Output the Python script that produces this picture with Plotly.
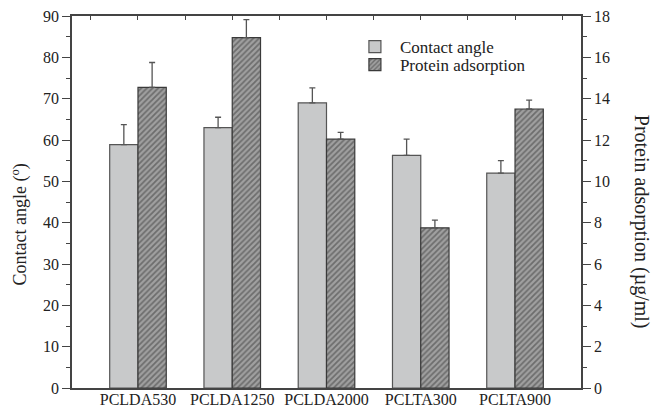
import plotly.graph_objects as go

categories = ["PCLDA530", "PCLDA1250", "PCLDA2000", "PCLTA300", "PCLTA900"]
contact_angle = [58.9, 63.0, 69.0, 56.3, 52.0]
contact_angle_err = [4.8, 2.5, 3.6, 3.9, 3.0]
protein = [14.55, 16.95, 12.04, 7.75, 13.5]
protein_err = [1.2, 0.87, 0.33, 0.37, 0.43]

FONT = "Liberation Serif"
AX = "#444444"
TICKSIZE = 16
LEGFONT = dict(family=FONT, size=17, color="#222")

fig = go.Figure()
fig.add_trace(go.Bar(
    x=categories, y=contact_angle, name="Contact angle",
    offset=-0.3, width=0.3, legend="legend",
    marker=dict(color="#c8c9ca", line=dict(color="#555555", width=1.2)),
    error_y=dict(type="data", array=contact_angle_err, arrayminus=[0]*5, symmetric=False,
                 color="#555555", thickness=1.3, width=3),
    yaxis="y",
))
fig.add_trace(go.Bar(
    x=categories, y=protein, name="Protein adsorption",
    offset=0.0, width=0.3, legend="legend2",
    marker=dict(color="#9a9a9a", line=dict(color="#3a3a3a", width=1.2),
                pattern=dict(shape="/", bgcolor="#a0a0a0", fgcolor="#3a3a3a", size=4, solidity=0.45)),
    error_y=dict(type="data", array=protein_err, arrayminus=[0]*5, symmetric=False,
                 color="#555555", thickness=1.3, width=3),
    yaxis="y2",
))

fig.update_layout(
    width=654, height=409,
    margin=dict(l=72, r=73, t=16, b=21),
    paper_bgcolor="white", plot_bgcolor="white",
    barmode="overlay",
    showlegend=True,
    legend=dict(x=0.546, y=0.9166, xanchor="left", yanchor="middle",
                font=LEGFONT, bgcolor="rgba(0,0,0,0)", itemwidth=40),
    legend2=dict(x=0.546, y=0.868, xanchor="left", yanchor="middle",
                 font=LEGFONT, bgcolor="rgba(0,0,0,0)", itemwidth=40),
    font=dict(family=FONT, size=TICKSIZE, color="#222"),
    xaxis=dict(range=[-0.7, 4.7], showline=True, linecolor=AX, linewidth=1.5,
               ticks="", showgrid=False, zeroline=False, automargin=False,
               ticklabelstandoff=-4,
               tickfont=dict(family=FONT, size=TICKSIZE, color="#222")),
    xaxis2=dict(range=[-0.7, 4.7], overlaying="x", side="top", showline=True,
                linecolor=AX, linewidth=1.5, ticks="inside", ticklen=4, tickcolor=AX,
                tick0=-0.5, dtick=0.5, showticklabels=False, showgrid=False, zeroline=False,
                anchor="y", automargin=False),
    yaxis=dict(range=[0, 90], dtick=10, showline=True, linecolor=AX, linewidth=1.5,
               ticks="outside", ticklen=8, tickcolor=AX, showgrid=False, zeroline=False,
               automargin=False,
               minor=dict(dtick=5, ticks="outside", ticklen=4, tickcolor=AX, showgrid=False),
               tickfont=dict(family=FONT, size=TICKSIZE, color="#222")),
    yaxis2=dict(range=[0, 18], dtick=2, overlaying="y", side="right", showline=True,
                linecolor=AX, linewidth=1.5, ticks="outside", ticklen=8, tickcolor=AX,
                showgrid=False, zeroline=False, automargin=False,
                minor=dict(dtick=1, ticks="outside", ticklen=4, tickcolor=AX, showgrid=False),
                tickfont=dict(family=FONT, size=TICKSIZE, color="#222")),
    annotations=[
        dict(text="Contact angle (<sup>o</sup>)", xref="paper", yref="paper",
             x=-0.102, y=0.44, textangle=-90, showarrow=False,
             xanchor="center", yanchor="middle",
             font=dict(family=FONT, size=18, color="#222")),
        dict(text="Protein adsorption (\u00b5g/ml)", xref="paper", yref="paper",
             x=1.119, y=0.448, textangle=90, showarrow=False,
             xanchor="center", yanchor="middle",
             font=dict(family=FONT, size=20, color="#222")),
    ],
)
# invisible trace to make the top axis render
fig.add_trace(go.Scatter(x=[0], y=[0], xaxis="x2", yaxis="y", mode="markers",
                         marker=dict(opacity=0), showlegend=False, hoverinfo="skip"))

fig.write_html("out.html")
